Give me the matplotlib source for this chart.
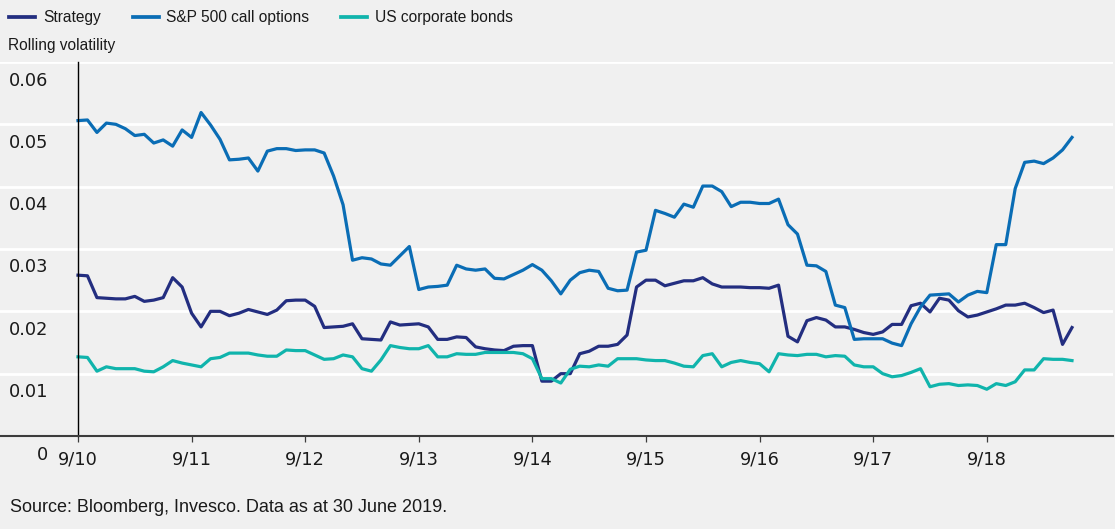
import matplotlib
matplotlib.use("Agg")
import matplotlib.pyplot as plt
from matplotlib.transforms import ScaledTranslation
from matplotlib.lines import Line2D
import numpy as np

# ---- data (monthly, Sep 2010 .. Jun 2019) ----
strategy = [0.0258, 0.0257, 0.0222, 0.0221, 0.0220, 0.0220, 0.0224, 0.0216, 0.0218, 0.0222,
            0.0254, 0.0239, 0.0197, 0.0175, 0.0200, 0.0200, 0.0193, 0.0197, 0.0203, 0.0199,
            0.0195, 0.0202, 0.0217, 0.0218, 0.0218, 0.0208, 0.0174, 0.0175, 0.0176, 0.0180,
            0.0156, 0.0155, 0.0154, 0.0183, 0.0178, 0.0179, 0.0180, 0.0175, 0.0155, 0.0155,
            0.0159, 0.0158, 0.0143, 0.0140, 0.0138, 0.0137, 0.0144, 0.0145, 0.0145, 0.0088,
            0.0088, 0.0100, 0.0100, 0.0132, 0.0136, 0.0144, 0.0144, 0.0147, 0.0162, 0.0239,
            0.0250, 0.0250, 0.0241, 0.0245, 0.0249, 0.0249, 0.0254, 0.0244, 0.0239, 0.0239,
            0.0239, 0.0238, 0.0238, 0.0237, 0.0242, 0.0160, 0.0151, 0.0185, 0.0190, 0.0186,
            0.0175, 0.0175, 0.0171, 0.0166, 0.0163, 0.0167, 0.0179, 0.0179, 0.0209, 0.0213,
            0.0199, 0.0221, 0.0218, 0.0201, 0.0191, 0.0194, 0.0199, 0.0204, 0.0210, 0.0210,
            0.0213, 0.0206, 0.0198, 0.0202, 0.0147, 0.0174]

sp500_calls = [0.0506, 0.0507, 0.0487, 0.0502, 0.0500, 0.0493, 0.0482, 0.0484, 0.0470, 0.0475,
               0.0465, 0.0491, 0.0479, 0.0519, 0.0499, 0.0476, 0.0443, 0.0444, 0.0446, 0.0425,
               0.0457, 0.0461, 0.0461, 0.0458, 0.0459, 0.0459, 0.0454, 0.0417, 0.0371, 0.0282,
               0.0286, 0.0284, 0.0276, 0.0274, 0.0289, 0.0304, 0.0235, 0.0239, 0.0240, 0.0242,
               0.0274, 0.0268, 0.0266, 0.0268, 0.0253, 0.0252, 0.0259, 0.0266, 0.0275, 0.0266,
               0.0249, 0.0228, 0.0250, 0.0262, 0.0266, 0.0264, 0.0237, 0.0233, 0.0234, 0.0295,
               0.0298, 0.0362, 0.0357, 0.0351, 0.0372, 0.0367, 0.0401, 0.0401, 0.0392, 0.0368,
               0.0375, 0.0375, 0.0373, 0.0373, 0.0380, 0.0339, 0.0324, 0.0274, 0.0273, 0.0264,
               0.0210, 0.0206, 0.0155, 0.0156, 0.0156, 0.0156, 0.0149, 0.0145, 0.0180, 0.0207,
               0.0226, 0.0227, 0.0228, 0.0215, 0.0226, 0.0232, 0.0230, 0.0307, 0.0307, 0.0397,
               0.0439, 0.0441, 0.0437, 0.0446, 0.0459, 0.0479]

us_corp_bonds = [0.0127, 0.0126, 0.0104, 0.0111, 0.0108, 0.0108, 0.0108, 0.0104, 0.0103, 0.0111,
                 0.0121, 0.0117, 0.0114, 0.0111, 0.0124, 0.0126, 0.0133, 0.0133, 0.0133, 0.0130,
                 0.0128, 0.0128, 0.0138, 0.0137, 0.0137, 0.0130, 0.0123, 0.0124, 0.0130, 0.0127,
                 0.0108, 0.0104, 0.0122, 0.0145, 0.0142, 0.0140, 0.0140, 0.0145, 0.0127, 0.0127,
                 0.0132, 0.0131, 0.0131, 0.0134, 0.0134, 0.0134, 0.0134, 0.0132, 0.0124, 0.0092,
                 0.0092, 0.0085, 0.0107, 0.0112, 0.0111, 0.0114, 0.0112, 0.0124, 0.0124, 0.0124,
                 0.0122, 0.0121, 0.0121, 0.0117, 0.0112, 0.0111, 0.0129, 0.0132, 0.0111, 0.0118,
                 0.0121, 0.0118, 0.0116, 0.0103, 0.0132, 0.0130, 0.0129, 0.0131, 0.0131, 0.0127,
                 0.0129, 0.0128, 0.0114, 0.0111, 0.0111, 0.0100, 0.0095, 0.0097, 0.0102, 0.0108,
                 0.0079, 0.0083, 0.0084, 0.0081, 0.0082, 0.0081, 0.0075, 0.0084, 0.0081, 0.0087,
                 0.0106, 0.0106, 0.0124, 0.0123, 0.0123, 0.0121]

series_names = ["Strategy", "S&P 500 call options", "US corporate bonds"]
series_colors = ["#232e80", "#0a6db5", "#10b4ac"]

x_tick_labels = ["9/10", "9/11", "9/12", "9/13", "9/14", "9/15", "9/16", "9/17", "9/18"]
y_ticks = [0, 0.01, 0.02, 0.03, 0.04, 0.05, 0.06]
y_tick_labels = ["0", "0.01", "0.02", "0.03", "0.04", "0.05", "0.06"]

# ---- figure ----
plt.rcParams['font.family'] = ['Liberation Sans', 'DejaVu Sans']
TEXT = "#1a1a1a"
BG = "#f0f0f0"
W, H, DPI = 1115, 529, 100
fig = plt.figure(figsize=(W / DPI, H / DPI), dpi=DPI, facecolor=BG)

ax_left_px, ax_right_px = 0, 1113
ax_top_px, ax_bot_px = 62, 436
ax = fig.add_axes([ax_left_px / W, 1 - ax_bot_px / H,
                   (ax_right_px - ax_left_px) / W, (ax_bot_px - ax_top_px) / H])
ax.set_facecolor(BG)

n = len(strategy)
x = np.arange(n)
px_per_month = 113.6 / 12
origin_px = 78
ax.set_xlim(-(origin_px - ax_left_px) / px_per_month,
            (ax_right_px - origin_px) / px_per_month)
ax.set_ylim(0, 0.06)

# gridlines
for yv in y_ticks[1:]:
    ax.axhline(yv, color="white", lw=2.0, zorder=1)

for data, name, col in zip([strategy, sp500_calls, us_corp_bonds], series_names, series_colors):
    ax.plot(x, data, color=col, lw=2.3, label=name, zorder=3)

# y axis line at the start date
ax.plot([0, 0], [0, 0.06], color="black", lw=1.0, zorder=4, clip_on=False)

for s in ["top", "right", "left"]:
    ax.spines[s].set_visible(False)
ax.spines["bottom"].set_color("#3c3c3c")
ax.spines["bottom"].set_linewidth(1.5)
ax.spines["bottom"].set_zorder(5)

tick_font = dict(family="DejaVu Sans", size=12.8)

ax.set_xticks(np.arange(len(x_tick_labels)) * 12)
ax.set_xticklabels(x_tick_labels, fontdict=tick_font)
ax.tick_params(axis="x", length=4, width=0.9, color="#3c3c3c", pad=6.5, labelcolor=TEXT)

ax.set_yticks(y_ticks)
ax.set_yticklabels(y_tick_labels, fontdict=tick_font)
ax.tick_params(axis="y", length=0, pad=-34.5, labelcolor=TEXT)
for lab in ax.get_yticklabels():
    lab.set_horizontalalignment("right")
    lab.set_transform(lab.get_transform() + ScaledTranslation(0, -0.165, fig.dpi_scale_trans))

# legend
handles = [Line2D([], [], color=c, lw=2.7) for c in series_colors]
fig.legend(handles, series_names, loc="center left", bbox_to_anchor=(9 / W, 1 - 17.5 / H),
           ncol=3, frameon=False, prop=dict(family="Liberation Sans", size=11.2),
           labelcolor=TEXT, handlelength=1.68, handletextpad=0.5,
           columnspacing=2.05, borderpad=0, borderaxespad=0)

fig.text(8 / W, 1 - 46 / H, "Rolling volatility", fontsize=11.2, color=TEXT,
         ha="left", va="center")
fig.text(10 / W, 1 - 507 / H, "Source: Bloomberg, Invesco. Data as at 30 June 2019.",
         fontsize=12.95, color=TEXT, ha="left", va="center")

fig.savefig("out.png", dpi=DPI, facecolor=BG)
